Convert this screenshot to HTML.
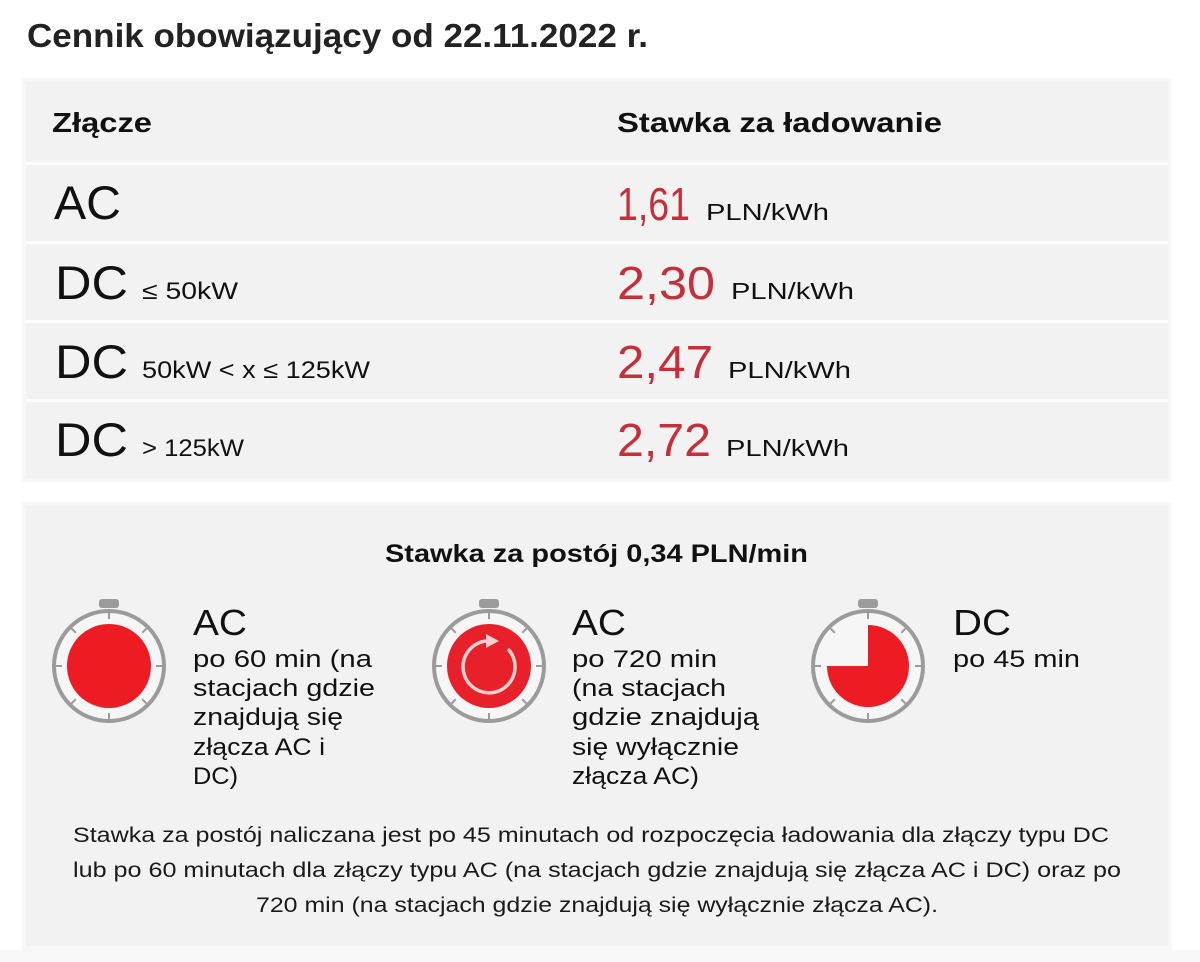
<!DOCTYPE html>
<html>
<head>
<meta charset="utf-8">
<style>
html,body{margin:0;padding:0;background:#fff;}
svg{display:block;}
text{font-family:"Liberation Sans","DejaVu Sans",sans-serif;}
.b{font-weight:bold;}
</style>
</head>
<body>
<svg width="1200" height="962" viewBox="0 0 1200 962" xmlns="http://www.w3.org/2000/svg">
  <rect x="0" y="0" width="1200" height="962" fill="#ffffff"/>

  <!-- Title -->
  <text class="b" x="27" y="47" font-size="33" fill="#222" textLength="621" lengthAdjust="spacingAndGlyphs">Cennik obowiązujący od 22.11.2022 r.</text>

  <!-- Table box -->
  <rect x="22" y="78" width="1150" height="404" fill="#f7f7f7"/>
  <rect x="26" y="82" width="1142" height="396" fill="#f2f2f2"/>
  <rect x="26" y="162" width="1142" height="3" fill="#fcfcfc"/>
  <rect x="26" y="241" width="1142" height="3" fill="#fcfcfc"/>
  <rect x="26" y="320" width="1142" height="3" fill="#fcfcfc"/>
  <rect x="26" y="399" width="1142" height="3" fill="#fcfcfc"/>

  <!-- Header -->
  <text class="b" x="52" y="132" font-size="28" fill="#111" textLength="100" lengthAdjust="spacingAndGlyphs">Złącze</text>
  <text class="b" x="617" y="132" font-size="28" fill="#111" textLength="325" lengthAdjust="spacingAndGlyphs">Stawka za ładowanie</text>

  <!-- Row AC -->
  <text x="54" y="219" font-size="47" fill="#111" textLength="67" lengthAdjust="spacingAndGlyphs">AC</text>
  <text x="617" y="220" font-size="46" fill="#c62f3a" textLength="73" lengthAdjust="spacingAndGlyphs">1,61</text>
  <text x="706" y="220" font-size="23" fill="#111" textLength="123" lengthAdjust="spacingAndGlyphs">PLN/kWh</text>

  <!-- Row DC <=50 -->
  <text x="55" y="299" font-size="47" fill="#111" textLength="73" lengthAdjust="spacingAndGlyphs">DC</text>
  <text x="142" y="299" font-size="24" fill="#111" textLength="96" lengthAdjust="spacingAndGlyphs">≤ 50kW</text>
  <text x="617" y="299" font-size="46" fill="#c62f3a" textLength="98" lengthAdjust="spacingAndGlyphs">2,30</text>
  <text x="731" y="299" font-size="23" fill="#111" textLength="123" lengthAdjust="spacingAndGlyphs">PLN/kWh</text>

  <!-- Row DC 50-125 -->
  <text x="55" y="378" font-size="47" fill="#111" textLength="73" lengthAdjust="spacingAndGlyphs">DC</text>
  <text x="142" y="378" font-size="24" fill="#111" textLength="228" lengthAdjust="spacingAndGlyphs">50kW &lt; x ≤ 125kW</text>
  <text x="617" y="378" font-size="46" fill="#c62f3a" textLength="96" lengthAdjust="spacingAndGlyphs">2,47</text>
  <text x="728" y="378" font-size="23" fill="#111" textLength="123" lengthAdjust="spacingAndGlyphs">PLN/kWh</text>

  <!-- Row DC >125 -->
  <text x="55" y="456" font-size="47" fill="#111" textLength="73" lengthAdjust="spacingAndGlyphs">DC</text>
  <text x="142" y="456" font-size="24" fill="#111" textLength="102" lengthAdjust="spacingAndGlyphs">&gt; 125kW</text>
  <text x="617" y="456" font-size="46" fill="#c62f3a" textLength="94" lengthAdjust="spacingAndGlyphs">2,72</text>
  <text x="726" y="456" font-size="23" fill="#111" textLength="123" lengthAdjust="spacingAndGlyphs">PLN/kWh</text>

  <!-- Bottom box -->
  <rect x="22" y="502" width="1150" height="448" fill="#f7f7f7"/>
  <rect x="26" y="506" width="1142" height="440" fill="#f2f2f2"/>
  <rect x="0" y="950" width="1200" height="12" fill="#f8f8f8"/>

  <text class="b" x="385" y="562" font-size="25" fill="#111" textLength="423" lengthAdjust="spacingAndGlyphs">Stawka za postój 0,34 PLN/min</text>

  <!-- Icon 1 -->
  <g>
    <rect x="99" y="599" width="20" height="9" rx="3" fill="#9b9b9b"/>
    <circle cx="109" cy="666" r="55" fill="#f6f6f6" stroke="#9b9b9b" stroke-width="4"/>
    <g stroke="#9b9b9b" stroke-width="2">
      <line x1="109" y1="613" x2="109" y2="619"/>
      <line x1="109" y1="713" x2="109" y2="719"/>
      <line x1="56" y1="666" x2="62" y2="666"/>
      <line x1="156" y1="666" x2="162" y2="666"/>
      <line x1="146.5" y1="628.5" x2="142.2" y2="632.8"/>
      <line x1="71.5" y1="628.5" x2="75.8" y2="632.8"/>
      <line x1="146.5" y1="703.5" x2="142.2" y2="699.2"/>
      <line x1="71.5" y1="703.5" x2="75.8" y2="699.2"/>
    </g>
    <circle cx="109" cy="666" r="42" fill="#ed1c24"/>
  </g>

  <!-- Icon 2 -->
  <g>
    <rect x="479" y="599" width="20" height="9" rx="3" fill="#9b9b9b"/>
    <circle cx="489" cy="666" r="55" fill="#f6f6f6" stroke="#9b9b9b" stroke-width="4"/>
    <g stroke="#9b9b9b" stroke-width="2">
      <line x1="489" y1="613" x2="489" y2="619"/>
      <line x1="489" y1="713" x2="489" y2="719"/>
      <line x1="436" y1="666" x2="442" y2="666"/>
      <line x1="536" y1="666" x2="542" y2="666"/>
      <line x1="526.5" y1="628.5" x2="522.2" y2="632.8"/>
      <line x1="451.5" y1="628.5" x2="455.8" y2="632.8"/>
      <line x1="526.5" y1="703.5" x2="522.2" y2="699.2"/>
      <line x1="451.5" y1="703.5" x2="455.8" y2="699.2"/>
    </g>
    <circle cx="489" cy="666" r="42" fill="#e8202a"/>
    <path d="M 508 649 A 26 26 0 1 1 486 641" fill="none" stroke="#f7cfcf" stroke-width="3.5"/>
    <path d="M 486 634 L 499 641 L 486 648 Z" fill="#f7cfcf"/>
  </g>

  <!-- Icon 3 -->
  <g>
    <rect x="858" y="599" width="20" height="9" rx="3" fill="#9b9b9b"/>
    <circle cx="868" cy="666" r="55" fill="#f6f6f6" stroke="#9b9b9b" stroke-width="4"/>
    <g stroke="#9b9b9b" stroke-width="2">
      <line x1="868" y1="613" x2="868" y2="619"/>
      <line x1="868" y1="713" x2="868" y2="719"/>
      <line x1="815" y1="666" x2="821" y2="666"/>
      <line x1="915" y1="666" x2="921" y2="666"/>
      <line x1="905.5" y1="628.5" x2="901.2" y2="632.8"/>
      <line x1="830.5" y1="628.5" x2="834.8" y2="632.8"/>
      <line x1="905.5" y1="703.5" x2="901.2" y2="699.2"/>
      <line x1="830.5" y1="703.5" x2="834.8" y2="699.2"/>
    </g>
    <path d="M 868 666 L 868 625 A 41 41 0 1 1 827 666 Z" fill="#ed1c24"/>
  </g>

  <!-- Text block 1 -->
  <text x="193" y="635" font-size="36" fill="#111" textLength="54" lengthAdjust="spacingAndGlyphs">AC</text>
  <g font-size="24" fill="#111">
    <text x="193" y="667" textLength="179" lengthAdjust="spacingAndGlyphs">po 60 min (na</text>
    <text x="193" y="696" textLength="182" lengthAdjust="spacingAndGlyphs">stacjach gdzie</text>
    <text x="193" y="725" textLength="150" lengthAdjust="spacingAndGlyphs">znajdują się</text>
    <text x="193" y="755" textLength="132" lengthAdjust="spacingAndGlyphs">złącza AC i</text>
    <text x="193" y="784" textLength="45" lengthAdjust="spacingAndGlyphs">DC)</text>
  </g>

  <!-- Text block 2 -->
  <text x="572" y="635" font-size="36" fill="#111" textLength="54" lengthAdjust="spacingAndGlyphs">AC</text>
  <g font-size="24" fill="#111">
    <text x="572" y="667" textLength="145" lengthAdjust="spacingAndGlyphs">po 720 min</text>
    <text x="572" y="696" textLength="154" lengthAdjust="spacingAndGlyphs">(na stacjach</text>
    <text x="572" y="725" textLength="187" lengthAdjust="spacingAndGlyphs">gdzie znajdują</text>
    <text x="572" y="755" textLength="167" lengthAdjust="spacingAndGlyphs">się wyłącznie</text>
    <text x="572" y="784" textLength="127" lengthAdjust="spacingAndGlyphs">złącza AC)</text>
  </g>

  <!-- Text block 3 -->
  <text x="953" y="635" font-size="36" fill="#111" textLength="58" lengthAdjust="spacingAndGlyphs">DC</text>
  <text x="953" y="667" font-size="24" fill="#111" textLength="127" lengthAdjust="spacingAndGlyphs">po 45 min</text>

  <!-- Paragraph -->
  <g font-size="21" fill="#1a1a1a">
    <text x="73" y="842" textLength="1036" lengthAdjust="spacingAndGlyphs">Stawka za postój naliczana jest po 45 minutach od rozpoczęcia ładowania dla złączy typu DC</text>
    <text x="73" y="877" textLength="1048" lengthAdjust="spacingAndGlyphs">lub po 60 minutach dla złączy typu AC (na stacjach gdzie znajdują się złącza AC i DC) oraz po</text>
    <text x="256" y="912" textLength="682" lengthAdjust="spacingAndGlyphs">720 min (na stacjach gdzie znajdują się wyłącznie złącza AC).</text>
  </g>
</svg>
</body>
</html>
